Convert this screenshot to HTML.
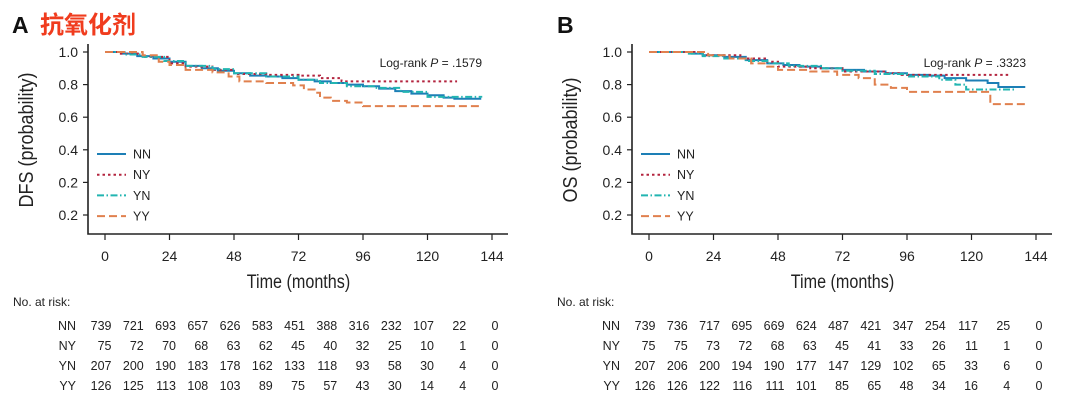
<!DOCTYPE html>
<html><head><meta charset="utf-8">
<style>
body{margin:0;background:#fff;width:1080px;height:406px;overflow:hidden}
svg{display:block;font-family:"Liberation Sans",sans-serif}
</style></head>
<body>
<svg id="c" width="1080" height="406" viewBox="0 0 1080 406" xmlns="http://www.w3.org/2000/svg">
<text x="12" y="33" font-size="23" font-weight="bold" fill="#111">A</text>
<text x="40" y="33" font-size="24" font-weight="bold" fill="#f03c1e" font-family="'Liberation Sans','Noto Sans CJK SC',sans-serif">抗氧化剂</text>
<text x="557" y="33" font-size="23" font-weight="bold" fill="#111">B</text>
</svg>
<script>
const ticksX=[0,24,48,72,96,120,144];
const ticksY=[1.0,0.8,0.6,0.4,0.2,0.0];
const tickYLabels=["1.0","0.8","0.6","0.4","0.2","0.2"];
const groups=["NN","NY","YN","YY"];
const colors={NN:"#1d7fb6",NY:"#b3243f",YN:"#22b5b1",YY:"#e0804e"};
const dashes={NN:"",NY:"2.5,3",YN:"7,2.5,1.5,2.5",YY:"8,4"};
// Panel A (DFS) step curves: [time, survival]
const dfsNN=[[0,1],[6,0.99],[12,0.975],[18,0.96],[24,0.94],[30,0.915],[36,0.9],[42,0.885],[48,0.87],[54,0.855],[60,0.85],[66,0.84],[72,0.83],[78,0.82],[84,0.81],[90,0.8],[96,0.79],[102,0.775],[108,0.76],[114,0.745],[120,0.735],[126,0.72],[130,0.713],[140,0.713]];
const dfsNY=[[0,1],[5,0.99],[14,0.97],[24,0.93],[30,0.91],[40,0.89],[48,0.865],[60,0.86],[72,0.855],[80,0.84],[88,0.82],[131,0.82]];
const dfsYN=[[0,1],[8,0.985],[14,0.97],[22,0.945],[30,0.915],[40,0.895],[48,0.87],[60,0.85],[72,0.83],[80,0.81],[90,0.79],[100,0.78],[110,0.755],[120,0.725],[140,0.72]];
const dfsYY=[[0,1],[14,0.98],[20,0.94],[24,0.92],[30,0.89],[40,0.875],[46,0.85],[50,0.82],[60,0.81],[70,0.795],[74,0.77],[78,0.75],[80,0.72],[84,0.7],[90,0.69],[96,0.668],[140,0.668]];
// Panel B (OS)
const osNN=[[0,1],[12,1],[16,0.99],[20,0.98],[28,0.97],[36,0.95],[44,0.93],[50,0.92],[56,0.91],[64,0.9],[72,0.89],[80,0.88],[88,0.87],[96,0.86],[104,0.855],[110,0.84],[118,0.825],[126,0.81],[130,0.785],[140,0.785]];
const osNY=[[0,1],[18,1],[20,0.98],[34,0.96],[44,0.94],[48,0.91],[60,0.9],[72,0.88],[88,0.87],[94,0.86],[134,0.86]];
const osYN=[[0,1],[14,0.99],[20,0.975],[28,0.96],[36,0.945],[44,0.93],[52,0.915],[64,0.9],[72,0.885],[84,0.865],[96,0.85],[108,0.83],[114,0.8],[118,0.77],[136,0.77]];
const osYY=[[0,1],[20,1],[22,0.98],[30,0.96],[38,0.93],[44,0.91],[48,0.89],[60,0.88],[70,0.86],[78,0.84],[84,0.8],[90,0.78],[96,0.755],[126,0.755],[127,0.68],[140,0.68]];
// numbers at risk
const riskA={NN:[739,721,693,657,626,583,451,388,316,232,107,22,0],NY:[75,72,70,68,63,62,45,40,32,25,10,1,0],YN:[207,200,190,183,178,162,133,118,93,58,30,4,0],YY:[126,125,113,108,103,89,75,57,43,30,14,4,0]};
const riskB={NN:[739,736,717,695,669,624,487,421,347,254,117,25,0],NY:[75,75,73,72,68,63,45,41,33,26,11,1,0],YN:[207,206,200,194,190,177,147,129,102,65,33,6,0],YY:[126,126,122,116,111,101,85,65,48,34,16,4,0]};
const riskTimes=[0,12,24,36,48,60,72,84,96,108,120,132,144];

const svg=document.getElementById('c');
const NS="http://www.w3.org/2000/svg";
function mk(t,a,parent){const e=document.createElementNS(NS,t);for(const k in a)e.setAttribute(k,a[k]);(parent||svg).appendChild(e);return e;}

function panel(p){
  const g=mk('g',{});
  
  
  const sx=t=>p.x0+(t/144)*(p.x144-p.x0);
  const sy=v=>52+(1-v)*163;
  const ax=mk('path',{d:`M${p.ax},44 V234 H${p.axEnd}`,stroke:'#222','stroke-width':1.6,fill:'none'},g);
  
  
  ticksY.forEach((v,i)=>{
    const y=sy(v);
    mk('line',{x1:p.ax-5,x2:p.ax,y1:y,y2:y,stroke:'#222','stroke-width':1.2},g);
    const t=mk('text',{x:p.ax-10,y:y+5,'text-anchor':'end','font-size':14,fill:'#222'},g);
    t.textContent=tickYLabels[i];
    
    
  });
  ticksX.forEach(v=>{
    const x=sx(v);
    mk('line',{x1:x,x2:x,y1:234,y2:240,stroke:'#222','stroke-width':1.2},g);
    const t=mk('text',{x:x,y:261,'text-anchor':'middle','font-size':14,fill:'#222'},g);
    t.textContent=v;
    
    
  });
  const cx=(p.x0+p.x144)/2;
  const xt=mk('text',{x:cx,y:288,'text-anchor':'middle','font-size':19,fill:'#222',transform:`translate(${cx},0) scale(0.85,1) translate(${-cx},0)`},g);
  xt.textContent='Time (months)';
  
  
  const yt=mk('text',{x:0,y:0,'text-anchor':'middle','font-size':20,fill:'#222',transform:`translate(${p.ax-55},${140}) rotate(-90) scale(0.9,1)`},g);
  yt.textContent=p.ytitle;
  
  
  const lr=mk('text',{x:p.x144-10,y:67,'text-anchor':'end','font-size':12,fill:'#222'},g);
  lr.innerHTML='Log-rank <tspan font-style="italic">P</tspan> = '+p.pval;
  
  
  groups.forEach(k=>{
    const d=p.data[k];
    let s=`M${sx(d[0][0])},${sy(d[0][1])}`;
    for(let i=1;i<d.length;i++){s+=` H${sx(d[i][0])} V${sy(d[i][1])}`;}
    const path=mk('path',{d:s,stroke:colors[k],'stroke-width':2,fill:'none','stroke-dasharray':dashes[k]},g);
    
    
  });
  groups.forEach((k,i)=>{
    const y=154+i*20.7;
    const l=mk('line',{x1:p.ax+9,x2:p.ax+38,y1:y,y2:y,stroke:colors[k],'stroke-width':2,'stroke-dasharray':dashes[k]},g);
    
    
    const t=mk('text',{x:p.ax+45,y:y+4.5,'font-size':12.5,fill:'#222'},g);
    t.textContent=k;
    
    
  });
  const nr=mk('text',{x:p.nrx,y:306,'font-size':12,fill:'#222'},g);
  nr.textContent='No. at risk:';
  
  
  groups.forEach((k,i)=>{
    const y=330+i*20;
    const lab=mk('text',{x:p.rlx,y:y,'text-anchor':'end','font-size':12.5,fill:'#222'},g);
    lab.textContent=k;
    
    
    p.risk[k].forEach((n,j)=>{
      const t=mk('text',{x:sx(riskTimes[j])+6.5,y:y,'text-anchor':'end','font-size':12.5,fill:'#222'},g);
      t.textContent=n;
      
      
    });
  });
}
panel({id:'dfs',ax:88,axEnd:508,x0:105,x144:492,ytitle:'DFS (probability)',pval:'.1579',nrx:13,rlx:76,
  data:{NN:dfsNN,NY:dfsNY,YN:dfsYN,YY:dfsYY},risk:riskA});
panel({id:'os',ax:632,axEnd:1052,x0:649,x144:1036,ytitle:'OS (probability)',pval:'.3323',nrx:557,rlx:620,
  data:{NN:osNN,NY:osNY,YN:osYN,YY:osYY},risk:riskB});
</script>
</body></html>
